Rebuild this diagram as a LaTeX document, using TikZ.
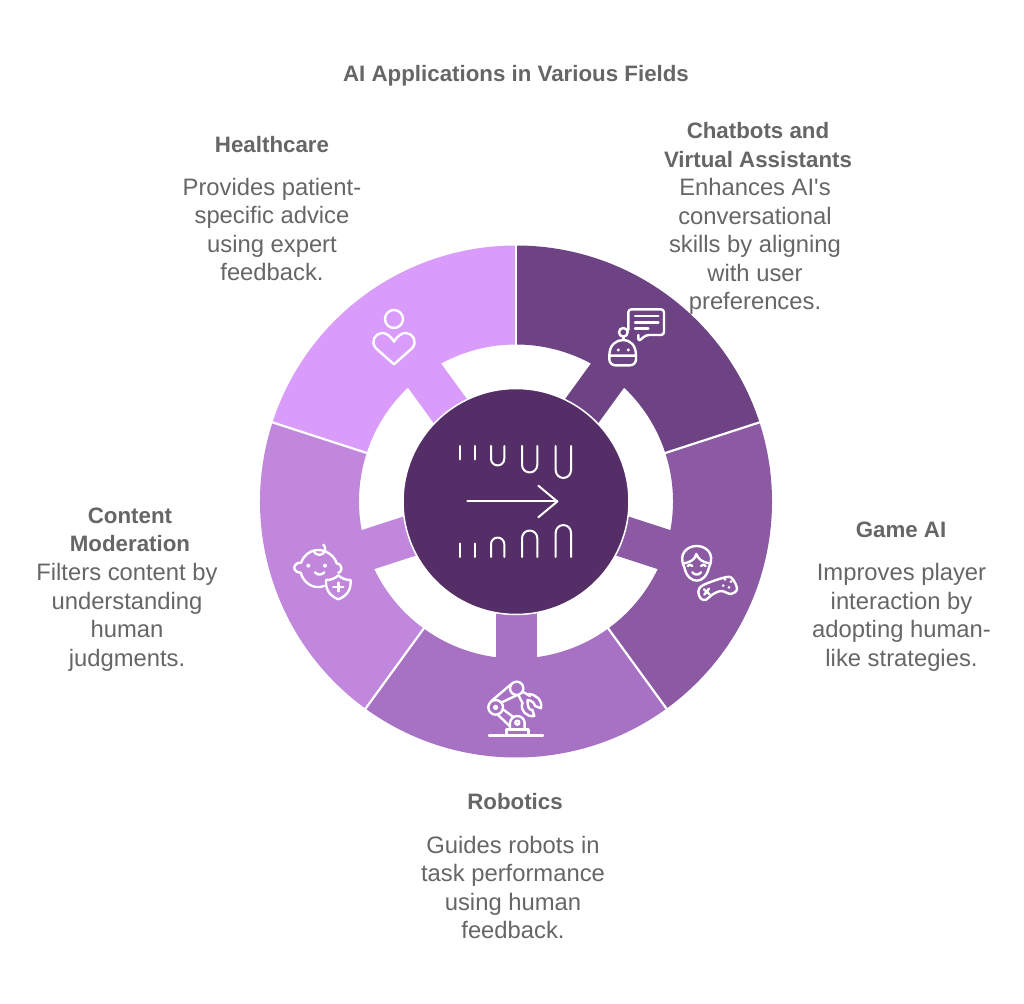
\documentclass[tikz,border=0pt]{standalone}
\usepackage{fontspec}
\setmainfont{Liberation Sans}[Ligatures=TeXOff]
\usetikzlibrary{positioning}
\definecolor{cHealth}{HTML}{DA9CFB}
\definecolor{cChat}{HTML}{6E4384}
\definecolor{cGame}{HTML}{8C5AA3}
\definecolor{cRobot}{HTML}{A872C4}
\definecolor{cContent}{HTML}{C087DC}
\definecolor{cHub}{HTML}{552E68}
\definecolor{cText}{HTML}{666666}
\tikzstyle{fHead} = [inner sep=0pt, align=center, text=cText, font=\fontsize{22.3}{28.5}\selectfont\bfseries]
\tikzstyle{fBody} = [inner sep=0pt, align=center, text=cText, font=\fontsize{23.8}{28.5}\selectfont]
\tikzstyle{fIcon} = [draw=white, line width=2.4pt, line cap=round, line join=round]
\tikzstyle{fDot} = [fill=white, draw=none]

\begin{document}
\begin{tikzpicture}[x=1pt, y=1pt]
    \useasboundingbox (-516,501.5) rectangle (508,-501.5);
    \fill[white] (-516,501.5) rectangle (508,-501.5);

    % ring with its tabs
    \foreach \a/\m/\col in {90/54/cChat, 18/-18/cGame, -54/-90/cRobot, -126/-162/cContent, 162/126/cHealth} {
        \fill[\col] (\a:157) -- (\a:256) arc[start angle=\a, delta angle=-72, radius=256] -- (\a-72:157) arc[start angle=\a-72, delta angle=72, radius=157] -- cycle;
        \fill[\col, rotate=\m] (105,-20.5) rectangle (160,20.5);
    }
    \foreach \a in {90, 18, -54, -126, 162} {
        \draw[white, line width=2.2pt] (\a:155) -- (\a:258);
    }

    % hub
    \node (hub) [circle, minimum size=226pt, inner sep=0pt, fill=cHub, draw=white, line width=1.5pt] at (0,0) {};
    \draw[fIcon, line width=2pt] (-48.7,0) -- (41.3,0);
    \draw[fIcon, line width=2pt] (22.3,15.8) -- (41.3,0) -- (22.3,-15.8);
    \foreach \s in {1,-1} {
        \begin{scope}[yscale=\s]
            \draw[fIcon, line width=2pt] (-55.7,55.5) -- (-55.7,42);
            \draw[fIcon, line width=2pt] (-41.3,55.5) -- (-41.3,42);
            \draw[fIcon, line width=2pt] (-25,55.5) -- (-25,42.7) arc[start angle=180, end angle=360, radius=6.65] -- (-11.7,55.5);
            \draw[fIcon, line width=2pt] (6,55.5) -- (6,36.7) arc[start angle=180, end angle=360, radius=7.65] -- (21.3,55.5);
            \draw[fIcon, line width=2pt] (39.7,55.5) -- (39.7,31.2) arc[start angle=180, end angle=360, radius=7.65] -- (55,55.5);
        \end{scope}
    }

    % chatbot icon
    \begin{scope}[shift={(74,211.5)}, x=.3333pt, y=-.3333pt]
        \draw[fIcon, rounded corners=3pt] (145,135) -- (145,155) -- (168,135) -- (222,135) -- (222,58) -- (115,58) -- (115,120);
        \draw[fIcon] (135,78) -- (205,78);
        \draw[fIcon] (135,98) -- (205,98);
        \draw[fIcon] (135,115) -- (175,115);
        \draw[fIcon] (100,127) circle[radius=13];
        \draw[fIcon] (100,140) -- (100,150);
        \draw[fIcon] (58,197) .. controls (58,165) and (78,150) .. (100,150) .. controls (120,150) and (138,165) .. (138,197) -- cycle;
        \draw[fIcon, rounded corners=6pt] (58,197) -- (58,226) -- (138,226) -- (138,197);
        \fill[fDot] (85,180) circle[radius=5];
        \fill[fDot] (115,180) circle[radius=5];
    \end{scope}

    % game icon
    \begin{scope}[shift={(149,-28.5)}, x=.3333pt, y=-.3333pt]
        \draw[fIcon] (58,112) .. controls (38,70) and (68,48) .. (95,48) .. controls (122,48) and (152,70) .. (132,112);
        \draw[fIcon] (58,100) .. controls (78,96) and (90,88) .. (94,72) .. controls (100,88) and (112,96) .. (132,100);
        \draw[fIcon] (58,112) .. controls (64,140) and (80,152) .. (95,152) .. controls (110,152) and (126,140) .. (132,112);
        \draw[fIcon] (68,108) .. controls (72,103) and (78,103) .. (82,108);
        \draw[fIcon] (108,108) .. controls (112,103) and (118,103) .. (122,108);
        \draw[fIcon] (82,127) .. controls (88,136) and (102,136) .. (108,127);
        \draw[fIcon] plot[smooth cycle, tension=.55] coordinates {(100,185) (115,165) (185,141) (205,150) (216,178) (198,192) (168,183) (140,195) (122,210) (107,205)};
        \draw[fIcon] (117,178) -- (133,192);
        \draw[fIcon] (132,176) -- (118,194);
        \fill[fDot] (180,148) circle[radius=4.5];
        \fill[fDot] (198,155) circle[radius=4.5];
        \fill[fDot] (175,167) circle[radius=4.5];
        \fill[fDot] (192,172) circle[radius=4.5];
    \end{scope}

    % robot arm icon
    \begin{scope}[shift={(-41,-168.5)}, x=.3333pt, y=-.3333pt]
        \draw[fIcon] (42,197) -- (204,197);
        \draw[fIcon] (95,197) -- (95,178) -- (160,178) -- (160,197);
        \draw[fIcon] (105,178) -- (105,160) arc[start angle=180, end angle=360, radius=22] -- (149,178);
        \draw[fIcon] (127,158) circle[radius=6];
        \draw[fIcon] (62,112) circle[radius=22];
        \draw[fIcon] (62,112) circle[radius=5];
        \draw[fIcon] (125,55) circle[radius=20];
        \draw[fIcon] (68,134) -- (106,170);
        \draw[fIcon] (84,118) -- (115,141);
        \draw[fIcon] (48,94) -- (109,42);
        \draw[fIcon] (78,98) -- (127,75);
        \draw[fIcon] (143,65) -- (165,78);
        \draw[fIcon] (130,75) -- (143,100);
        \draw[fIcon] (160,72) .. controls (182,72) and (203,90) .. (198,115) -- (180,108) .. controls (178,98) and (170,92) .. (158,90);
        \draw[fIcon] (142,100) .. controls (135,122) and (155,142) .. (178,138) -- (172,120) .. controls (162,120) and (157,112) .. (158,90);
    \end{scope}

    % baby icon
    \begin{scope}[shift={(-236,-28.5)}, x=.3333pt, y=-.3333pt]
        \draw[fIcon] (132,168) .. controls (100,180) and (70,158) .. (62,128) .. controls (50,128) and (42,120) .. (43,112) .. controls (44,102) and (55,97) .. (63,98) .. controls (70,78) and (88,62) .. (110,60) .. controls (140,58) and (165,80) .. (170,100) .. controls (180,100) and (187,112) .. (183,122) .. controls (181,126) and (178,128) .. (175,128);
        \draw[fIcon] (100,62) .. controls (108,80) and (130,78) .. (135,62) .. controls (137,55) and (135,48) .. (130,44);
        \fill[fDot] (85,107) circle[radius=6];
        \fill[fDot] (135,107) circle[radius=6];
        \draw[fIcon] (105,127) .. controls (112,136) and (125,136) .. (133,127);
        \draw[fIcon] (138,150) .. controls (155,150) and (165,145) .. (175,136) .. controls (185,145) and (195,150) .. (212,150) .. controls (214,180) and (200,198) .. (175,208) .. controls (150,198) and (136,180) .. (138,150) -- cycle;
        \draw[fIcon] (160,171) -- (190,171);
        \draw[fIcon] (175,158) -- (175,184);
    \end{scope}

    % heart icon
    \begin{scope}[shift={(-166,206.5)}, x=.3333pt, y=-.3333pt]
        \draw[fIcon] (132,72) circle[radius=27];
        \draw[fIcon] (132,140) .. controls (120,120) and (105,113) .. (95,114) .. controls (75,116) and (60,140) .. (78,160) -- (132,208) -- (186,160) .. controls (204,140) and (189,116) .. (169,114) .. controls (159,113) and (144,120) .. (132,140) -- cycle;
    \end{scope}

    % texts
    \node (title) [fHead] at (0,426) {AI Applications in Various Fields};

    \node (healthcare) [fHead] at (-244,356.5) {Healthcare};
    \node (healthcareText) [fBody, below of=healthcare, node distance=84.5pt] {Provides patient-\\specific advice\\using expert\\feedback.};

    \node (chatbots) [fHead] at (242,356.5) {Chatbots and\\Virtual Assistants};
    \node (chatbotsText) [fBody, below of=chatbots, node distance=101.5pt, xshift=-3pt] {Enhances AI's\\conversational\\skills by aligning\\with user\\preferences.};

    \node (gameAI) [fHead] at (385,-28.5) {Game AI};
    \node (gameAIText) [fBody, below of=gameAI, node distance=87.5pt, xshift=0.5pt] {Improves player\\interaction by\\adopting human-\\like strategies.};

    \node (robotics) [fHead] at (-1,-300.5) {Robotics};
    \node (roboticsText) [fBody, below of=robotics, node distance=85.5pt, xshift=-2pt] {Guides robots in\\task performance\\using human\\feedback.};

    \node (contentMod) [fHead] at (-386,-28.5) {Content\\Moderation};
    \node (contentModText) [fBody, below of=contentMod, node distance=87.5pt, xshift=-3pt] {Filters content by\\understanding\\human\\judgments.};
\end{tikzpicture}
\end{document}
